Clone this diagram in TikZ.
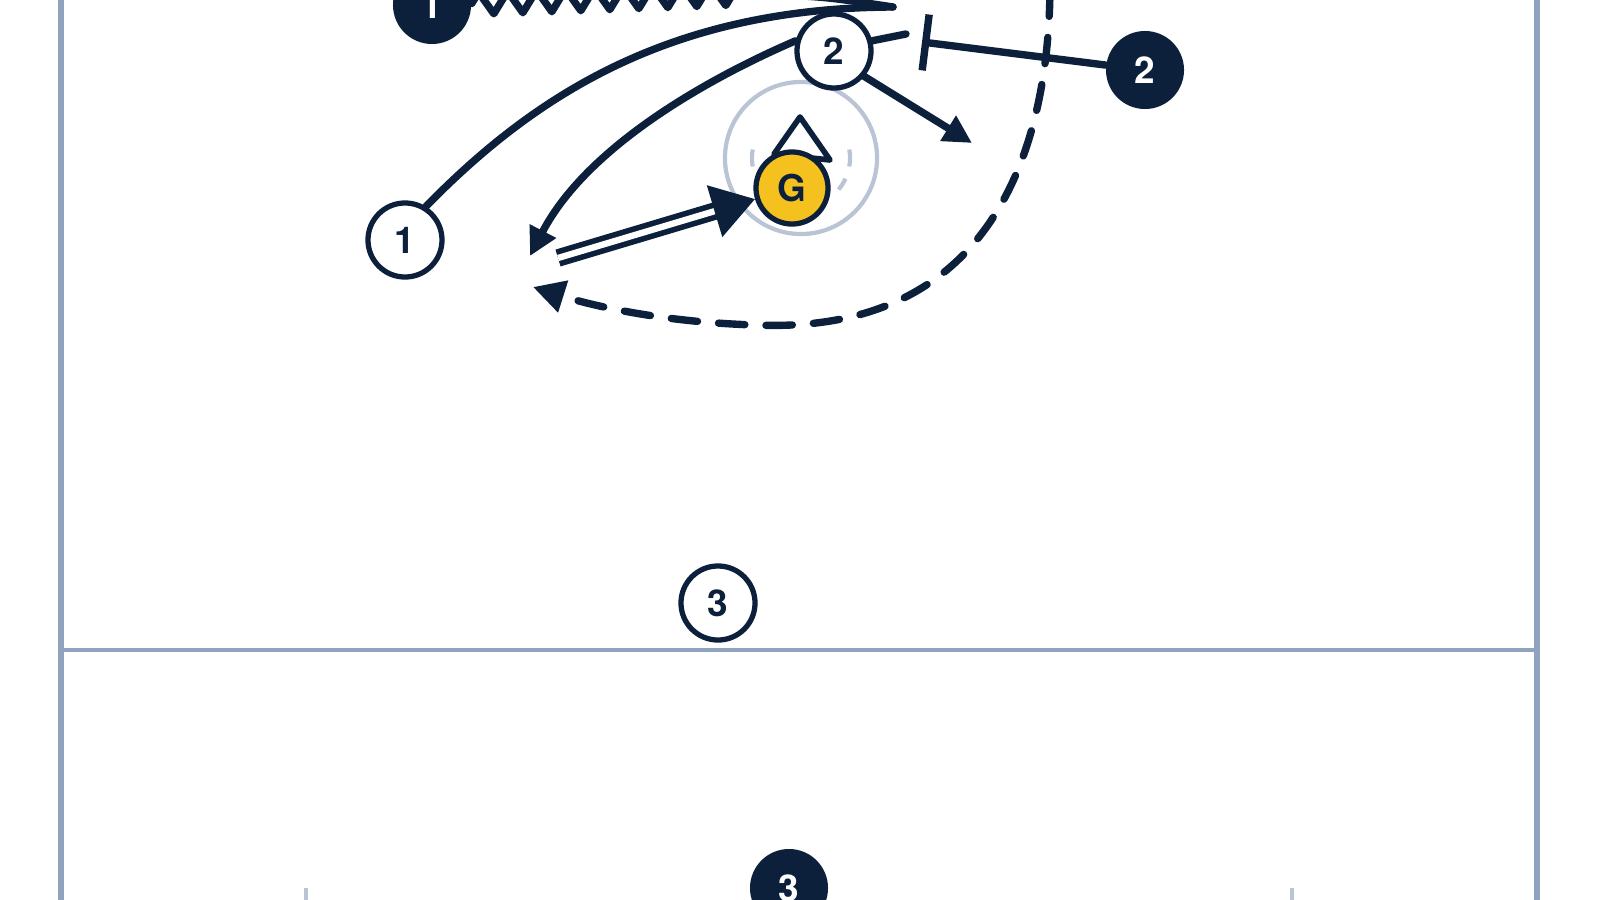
\documentclass[tikz,border=0pt]{standalone}
\usepackage{fontspec}
\setsansfont{TeX Gyre Heros}
\usetikzlibrary{arrows.meta,decorations.pathmorphing}

\definecolor{navy}{RGB}{12,32,60}
\definecolor{fieldline}{RGB}{143,163,191}
\definecolor{crease}{RGB}{186,196,212}
\definecolor{goldball}{RGB}{245,193,30}

\begin{document}
\begin{tikzpicture}[x=0.01cm,y=-0.01cm,
  every node/.style={font=\sffamily\bfseries\fontsize{10.5}{10.5}\selectfont},
  off/.style={circle,draw=navy,line width=1.5pt,fill=white,text=navy,minimum size=0.74cm,inner sep=0pt},
  def/.style={circle,fill=navy,text=white,minimum size=0.78cm,inner sep=0pt},
  goalie/.style={circle,draw=navy,line width=1.5pt,fill=goldball,text=navy,minimum size=0.72cm,inner sep=0pt},
  run/.style={draw=navy,line width=2.1pt,line cap=round,line join=round},
  runarrow/.style={run,-{Triangle[length=8pt,width=8pt]}},
  dodge/.style={run,decorate,decoration={zigzag,segment length=0.29cm,amplitude=0.11cm}},
  cut/.style={run,dash pattern=on 7.5pt off 6pt,-{Triangle[length=9pt,width=9pt]}},
  pass/.style={draw=navy,line width=1.6pt,double=white,double distance=1.8pt,-{Triangle[length=12pt,width=15pt]}},
  pick/.style={run,-{Bar[width=16pt]}},
  field/.style={draw=fieldline,line width=1.5pt}]
  \clip (0,0) rectangle (1600,900);

  % field
  \draw[field] (61,0) -- (61,900);
  \draw[field] (1537,0) -- (1537,900);
  \draw[field,line width=1.1pt] (61,650) -- (1537,650);
  \draw[field,draw=crease,line width=1.1pt] (306,888) -- (306,900);
  \draw[field,draw=crease,line width=1.1pt] (1292,888) -- (1292,900);

  % crease and goal
  \draw[draw=crease,line width=1.2pt] (801,158) circle[radius=0.76cm];
  \draw[draw=crease,line width=1.2pt] (801,158) ++(170:0.49cm) arc[start angle=170,end angle=190,radius=0.49cm];
  \draw[draw=crease,line width=1.2pt] (801,158) ++(-10:0.49cm) arc[start angle=-10,end angle=10,radius=0.49cm];
  \draw[draw=crease,line width=1.2pt] (801,158) ++(-40:0.49cm) arc[start angle=-40,end angle=-25,radius=0.49cm];
  \draw[navy,line width=1.6pt,fill=white,line join=round] (800,117) -- (774,154) -- (830,160) -- cycle;

  % players
  \node[def] (d1) at (432,5) {1};
  \node[def] (d2) at (1145,70) {2};
  \node[def] (d3) at (789,888) {3};
  \node[off] (o1) at (405,240) {1};
  \node[off] (o2) at (834,51) {2};
  \node[off] (o3) at (718,603) {3};
  \node[goalie] (g) at (792,188) {G};

  \coordinate (zz) at (740,-6);
  \coordinate (top) at (893,7);
  \coordinate (stub) at (906,34);
  \coordinate (bar) at (922,42);
  \coordinate (slide) at (972,143);
  \coordinate (catch) at (530,256);
  \coordinate (ps) at (558,258);
  \coordinate (cutstart) at (1050,-10);
  \coordinate (cutend) at (533,287);

  % movements
  \draw[dodge] (d1) -- (zz);
  \draw[run] (zz) .. controls (820,-4) .. (top);
  \draw[run] (o1.58) .. controls (535,95) and (670,8) .. (top);
  \draw[runarrow] (o2.165) .. controls (700,82) and (585,150) .. (catch);
  \draw[runarrow] (o2.-40) -- (slide);
  \draw[run] (o2.15) -- (stub);
  \draw[pick] (d2) -- (bar);
  \draw[cut] (cutstart) .. controls (1048,160) and (985,335) .. (755,325)
    .. controls (660,322) and (590,305) .. (cutend);
  \draw[pass] (ps) -- (g);
\end{tikzpicture}
\end{document}
